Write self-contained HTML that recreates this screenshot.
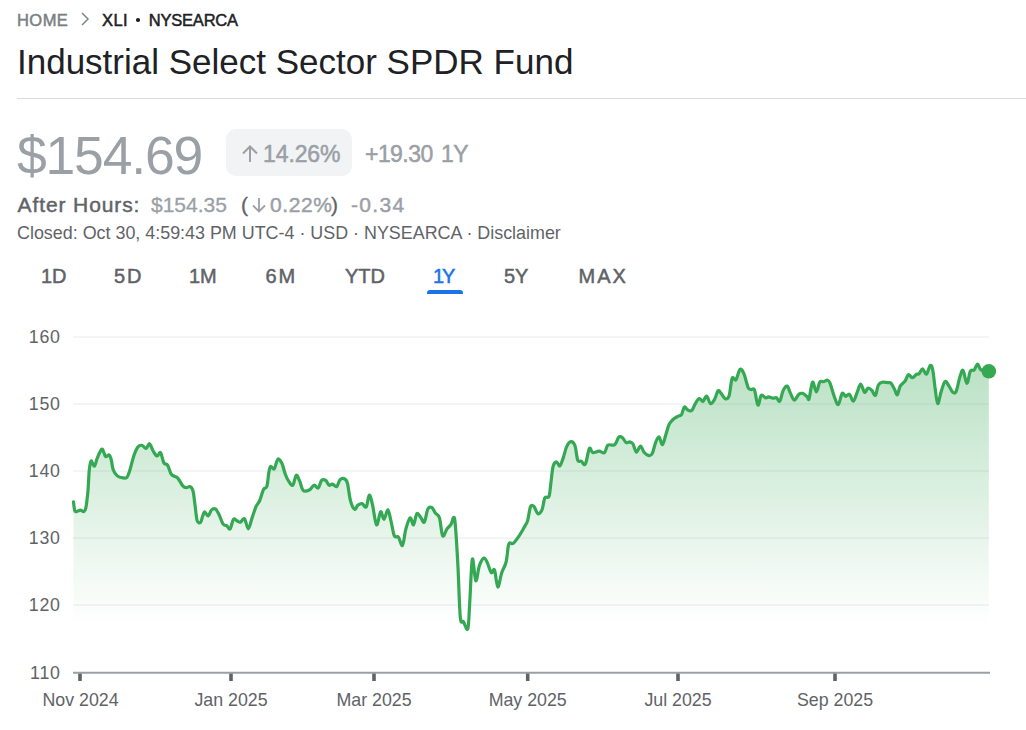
<!DOCTYPE html>
<html><head><meta charset="utf-8">
<style>
html,body{margin:0;padding:0;background:#fff;width:1026px;height:730px;overflow:hidden;}
body{font-family:"Liberation Sans",sans-serif;position:relative;}
.a{position:absolute;white-space:nowrap;line-height:1;}
.tab{position:absolute;white-space:nowrap;line-height:1;font-size:20px;-webkit-text-stroke:0.5px currentColor;color:#5f6368;top:266px;}
.m{-webkit-text-stroke:0.5px currentColor;}
</style></head><body>
<div class="a" style="left:17px;top:12px;font-size:16.5px;letter-spacing:0.45px;-webkit-text-stroke:0.5px #7a7f85;color:#7a7f85">HOME</div>
<svg class="a" style="left:78px;top:11px" width="14" height="16" viewBox="0 0 14 16"><path d="M4 2 L10 8 L4 14" fill="none" stroke="#80868b" stroke-width="1.5"/></svg>
<div class="a" style="left:102px;top:12px;font-size:16.5px;letter-spacing:0.45px;-webkit-text-stroke:0.5px #202124;color:#202124">XLI<span style="display:inline-block;width:3.6px;height:3.6px;border-radius:50%;background:#202124;margin:0 9px 0 8px;vertical-align:4px"></span><span style="letter-spacing:-0.2px">NYSEARCA</span></div>
<div class="a" style="left:17px;top:44px;font-size:35px;color:#202124">Industrial Select Sector SPDR Fund</div>
<div class="a" style="left:17px;top:98px;width:1009px;height:1px;background:#dadce0"></div>
<div class="a" style="left:17px;top:129px;font-size:53.5px;letter-spacing:-1.2px;color:#9aa0a6">$154.69</div>
<div class="a" style="left:226px;top:129px;width:126px;height:47px;border-radius:10px;background:#f1f3f4"></div>
<svg class="a" style="left:240px;top:143.7px" width="20" height="20" viewBox="0 0 20 20"><path d="M10 2.5 V18 M3 9.5 L10 2.5 L17 9.5" fill="none" stroke="#9aa0a6" stroke-width="2"/></svg>
<div class="a" style="left:263px;top:142.5px;font-size:23px;letter-spacing:-0.1px;-webkit-text-stroke:0.5px #9aa0a6;color:#9aa0a6">14.26%</div>
<div class="a" style="left:365px;top:142.5px;font-size:23px;letter-spacing:-0.55px;word-spacing:2.5px;-webkit-text-stroke:0.5px #9aa0a6;color:#9aa0a6">+19.30 1Y</div>
<div class="a" style="left:17.5px;top:194px;font-size:21px;letter-spacing:0.9px;-webkit-text-stroke:0.45px currentColor;color:#5f6368">After Hours:</div>
<div class="a" style="left:151px;top:194px;font-size:21px;-webkit-text-stroke:0.3px currentColor;color:#9aa0a6">$154.35</div>
<div class="a" style="left:241px;top:194px;font-size:21px;-webkit-text-stroke:0.3px currentColor;color:#5f6368">(</div>
<svg class="a" style="left:250px;top:196px" width="18" height="18" viewBox="0 0 18 18"><path d="M9 2 V15.5 M3 9.5 L9 15.5 L15 9.5" fill="none" stroke="#9aa0a6" stroke-width="1.8"/></svg>
<div class="a" style="left:270px;top:194px;font-size:21px;letter-spacing:0.6px;-webkit-text-stroke:0.45px currentColor;color:#9aa0a6">0.22%</div>
<div class="a" style="left:331px;top:194px;font-size:21px;-webkit-text-stroke:0.3px currentColor;color:#5f6368">)</div>
<div class="a" style="left:351px;top:194px;font-size:21px;letter-spacing:1.3px;-webkit-text-stroke:0.45px currentColor;color:#9aa0a6">-0.34</div>
<div class="a" style="left:17px;top:225px;font-size:17.9px;color:#5f6368">Closed: Oct 30, 4:59:43 PM UTC-4 · USD · NYSEARCA · Disclaimer</div>
<div class="tab" style="left:41px">1D</div>
<div class="tab" style="left:114px;letter-spacing:2px">5D</div>
<div class="tab" style="left:189px">1M</div>
<div class="tab" style="left:265.5px;letter-spacing:2px">6M</div>
<div class="tab" style="left:345px">YTD</div>
<div class="tab" style="left:433px;letter-spacing:-2px;color:#1a73e8">1Y</div>
<div class="a" style="left:427px;top:290px;width:36px;height:4px;border-radius:3px 3px 0 0;background:#1a73e8"></div>
<div class="tab" style="left:504px">5Y</div>
<div class="tab" style="left:578.5px;letter-spacing:2px">MAX</div>
<svg class="a" style="left:0;top:0" width="1026" height="730" viewBox="0 0 1026 730">
<defs><linearGradient id="g" x1="0" y1="364" x2="0" y2="625" gradientUnits="userSpaceOnUse">
<stop offset="0" stop-color="#34a853" stop-opacity="0.34"/><stop offset="1" stop-color="#34a853" stop-opacity="0"/></linearGradient></defs>
<g stroke="#e8eaed" stroke-width="1">
<line x1="73" y1="337" x2="989" y2="337"/><line x1="73" y1="404" x2="989" y2="404"/><line x1="73" y1="471" x2="989" y2="471"/><line x1="73" y1="538" x2="989" y2="538"/><line x1="73" y1="605" x2="989" y2="605"/>
</g>
<path d="M73.5,501.9 C73.7,503.4 74.2,509.2 74.8,510.8 C75.4,512.4 76.0,511.6 76.9,511.5 C77.8,511.4 79.2,510.1 80.3,510.1 C81.4,510.1 82.9,511.9 83.8,511.5 C84.7,511.1 85.1,511.3 85.8,508.0 C86.5,504.7 87.3,497.8 87.9,491.6 C88.5,485.4 88.7,476.1 89.2,471.0 C89.7,465.9 90.4,462.4 91.0,461.2 C91.6,460.0 92.1,462.8 92.7,463.6 C93.3,464.4 93.9,466.9 94.7,465.9 C95.5,464.9 96.3,460.2 97.5,457.4 C98.7,454.6 100.6,450.1 101.6,449.2 C102.6,448.3 102.9,450.6 103.6,451.9 C104.3,453.1 104.8,456.2 105.7,456.7 C106.6,457.2 108.2,454.5 109.1,455.0 C110.0,455.5 110.5,457.1 111.2,459.5 C111.9,461.9 112.2,467.0 113.2,469.7 C114.2,472.4 115.7,474.5 117.3,475.9 C118.9,477.3 121.2,477.7 122.8,477.9 C124.4,478.1 125.8,478.4 126.9,477.3 C128.0,476.2 128.4,474.7 129.6,471.1 C130.8,467.6 132.4,460.0 133.8,456.0 C135.2,452.0 136.5,448.9 137.9,447.1 C139.3,445.3 140.6,445.1 142.0,445.3 C143.4,445.5 144.8,448.8 146.1,448.5 C147.3,448.2 148.4,443.4 149.5,443.7 C150.6,444.0 151.7,448.4 152.9,450.5 C154.2,452.6 155.7,455.6 157.0,456.0 C158.3,456.4 159.3,451.5 160.5,452.6 C161.7,453.8 162.7,460.8 163.9,462.9 C165.1,465.0 166.5,463.4 167.7,465.3 C168.9,467.2 170.0,472.4 171.2,474.2 C172.3,476.0 173.5,475.6 174.6,476.3 C175.7,477.0 176.6,476.8 178.0,478.4 C179.4,480.0 181.4,484.3 182.8,485.9 C184.2,487.4 184.9,487.6 186.2,487.7 C187.4,487.8 189.2,486.0 190.3,486.6 C191.5,487.2 192.3,488.2 193.1,491.4 C193.9,494.6 194.4,500.9 195.1,505.8 C195.8,510.7 196.3,518.1 197.2,520.8 C198.1,523.5 199.7,523.0 200.6,522.2 C201.5,521.4 202.0,517.7 202.7,516.0 C203.4,514.3 203.8,511.9 204.7,511.9 C205.6,511.9 207.0,516.3 208.2,516.0 C209.3,515.7 210.3,511.0 211.6,509.9 C212.8,508.8 214.4,508.4 215.7,509.2 C216.9,510.0 217.8,512.2 219.1,514.7 C220.3,517.2 221.9,522.4 223.2,524.2 C224.4,526.0 225.4,524.8 226.6,525.6 C227.8,526.4 228.9,529.9 230.1,528.8 C231.2,527.7 232.4,520.5 233.5,519.2 C234.6,517.9 235.8,520.3 236.9,520.8 C238.0,521.3 239.0,522.5 240.3,522.2 C241.6,521.9 243.2,517.7 244.5,518.8 C245.8,519.9 247.1,528.9 248.3,528.8 C249.6,528.7 250.7,521.8 252.0,518.1 C253.3,514.4 254.9,509.2 256.1,506.4 C257.4,503.5 258.2,503.9 259.5,501.0 C260.8,498.1 262.4,491.7 263.6,489.3 C264.8,486.9 265.9,489.3 266.8,486.6 C267.7,483.9 268.2,476.3 268.8,472.9 C269.4,469.5 269.6,467.1 270.5,466.4 C271.4,465.7 273.1,470.0 274.3,468.8 C275.5,467.6 276.5,460.1 277.8,459.2 C279.1,458.3 280.6,460.8 281.9,463.3 C283.1,465.8 284.2,471.2 285.3,474.2 C286.4,477.2 287.4,479.3 288.7,481.1 C289.9,482.9 291.6,486.2 292.8,485.2 C294.1,484.2 295.1,476.0 296.2,475.3 C297.3,474.6 298.5,478.6 299.7,481.1 C300.9,483.6 301.5,488.9 303.1,490.4 C304.7,491.9 307.5,490.9 309.3,490.0 C311.1,489.1 312.6,485.5 314.1,485.2 C315.6,484.9 316.9,488.8 318.2,488.0 C319.4,487.2 320.4,481.7 321.6,480.4 C322.9,479.1 324.4,479.6 325.7,480.4 C326.9,481.2 328.0,484.6 329.1,485.2 C330.2,485.8 331.2,483.9 332.5,484.1 C333.8,484.3 335.4,487.3 336.7,486.6 C338.0,485.9 338.7,481.0 340.1,479.7 C341.5,478.4 343.6,478.3 344.9,479.0 C346.1,479.7 346.7,480.2 347.6,483.8 C348.5,487.4 349.2,496.1 350.4,500.3 C351.5,504.5 353.2,508.4 354.5,509.2 C355.8,510.0 356.6,506.0 357.9,505.1 C359.2,504.2 360.7,503.3 362.1,503.6 C363.5,503.9 365.0,508.4 366.2,507.0 C367.4,505.6 368.2,495.8 369.2,495.3 C370.2,494.8 371.2,499.3 372.4,504.2 C373.6,509.1 375.1,523.5 376.5,524.8 C377.9,526.1 379.4,512.7 380.6,511.8 C381.9,510.9 382.8,519.6 384.0,519.3 C385.2,518.9 386.8,509.5 387.9,509.7 C389.0,509.9 389.8,516.4 390.9,520.7 C392.0,525.1 393.1,533.1 394.3,535.8 C395.6,538.5 397.0,535.5 398.4,537.1 C399.8,538.7 401.2,546.7 402.5,545.3 C403.8,543.9 404.6,533.5 405.9,528.9 C407.2,524.3 408.8,518.6 410.1,517.9 C411.4,517.2 412.4,525.5 413.5,524.8 C414.6,524.1 415.6,514.8 416.9,513.6 C418.1,512.5 419.8,516.5 421.0,517.9 C422.2,519.3 423.2,523.6 424.4,522.1 C425.5,520.6 426.6,511.4 427.9,509.0 C429.2,506.6 430.8,507.0 432.0,507.7 C433.2,508.4 434.1,511.5 435.4,513.2 C436.6,514.9 438.3,514.1 439.5,517.9 C440.7,521.7 441.4,534.0 442.7,535.8 C443.9,537.6 445.6,530.8 447.0,528.9 C448.4,527.0 450.1,526.0 451.2,524.1 C452.3,522.2 452.9,517.2 453.6,517.3 C454.3,517.4 454.6,516.2 455.3,524.6 C456.0,533.0 457.2,552.0 458.0,567.4 C458.8,582.8 459.4,608.2 460.3,617.2 C461.2,626.2 462.1,619.8 463.4,621.7 C464.6,623.6 466.8,631.6 467.8,628.8 C468.8,626.0 468.9,616.4 469.6,604.8 C470.4,593.2 471.3,563.3 472.3,559.3 C473.3,555.3 474.6,579.7 475.8,580.7 C477.0,581.8 478.0,569.4 479.4,565.6 C480.8,561.8 482.6,558.6 483.9,558.1 C485.2,557.6 486.2,560.5 487.4,562.9 C488.6,565.3 490.1,571.5 491.3,572.7 C492.5,573.9 493.4,567.6 494.5,570.0 C495.6,572.4 496.6,586.5 497.8,587.0 C499.0,587.5 500.3,576.9 501.7,572.7 C503.1,568.5 504.9,566.8 506.1,562.0 C507.3,557.2 507.6,547.3 508.8,544.2 C510.0,541.1 511.5,544.8 513.3,543.3 C515.1,541.8 517.5,538.2 519.5,535.3 C521.5,532.4 523.6,528.4 525.0,525.9 C526.4,523.4 526.8,523.6 527.7,520.4 C528.6,517.2 529.5,509.0 530.5,506.7 C531.5,504.4 532.6,505.2 533.9,506.4 C535.1,507.6 536.6,513.3 538.0,513.8 C539.4,514.3 541.0,512.2 542.1,509.5 C543.2,506.8 543.8,500.0 544.9,497.8 C546.0,495.6 548.0,499.0 549.0,496.4 C550.0,493.8 550.3,487.1 551.0,482.1 C551.7,477.1 552.2,469.7 553.1,466.3 C554.0,462.9 555.4,461.9 556.5,461.8 C557.6,461.7 558.8,466.6 559.9,465.9 C561.0,465.2 562.2,460.6 563.4,457.4 C564.5,454.1 565.5,449.0 566.8,446.4 C568.0,443.8 569.5,441.7 570.9,441.6 C572.3,441.5 573.9,442.7 575.0,445.8 C576.1,448.9 576.7,457.5 577.7,460.1 C578.7,462.7 579.9,460.5 581.2,461.2 C582.5,461.9 583.9,466.3 585.3,464.2 C586.7,462.1 588.1,450.4 589.4,448.5 C590.6,446.6 591.2,452.2 592.8,452.6 C594.4,453.1 597.0,451.2 599.0,451.2 C601.0,451.2 603.0,453.6 604.5,452.6 C606.0,451.6 606.2,446.4 607.9,445.1 C609.6,443.8 612.9,446.1 614.7,444.8 C616.5,443.5 617.5,438.3 618.8,437.1 C620.1,435.9 621.1,436.6 622.3,437.5 C623.5,438.4 625.0,441.9 626.2,442.6 C627.4,443.3 628.5,441.7 629.6,441.9 C630.7,442.1 631.9,442.3 633.0,444.0 C634.1,445.7 635.1,451.9 636.4,452.2 C637.6,452.5 639.2,446.0 640.5,446.0 C641.8,446.0 642.6,450.6 644.0,452.2 C645.4,453.8 647.4,455.4 648.8,455.6 C650.2,455.8 651.1,455.8 652.2,453.6 C653.3,451.4 654.5,445.4 655.6,442.6 C656.7,439.8 657.9,436.5 659.0,436.8 C660.1,437.1 661.4,445.1 662.5,444.7 C663.6,444.3 664.8,437.8 665.9,434.4 C667.0,431.0 667.9,426.7 669.3,424.1 C670.7,421.5 672.5,420.0 674.1,418.6 C675.7,417.2 677.6,416.6 678.9,415.9 C680.1,415.2 680.7,416.0 681.6,414.5 C682.5,413.0 683.4,407.8 684.4,407.0 C685.4,406.2 686.5,409.4 687.8,410.0 C689.0,410.6 690.6,411.5 691.9,410.4 C693.1,409.3 694.1,405.6 695.3,403.6 C696.5,401.6 697.9,398.9 699.2,398.5 C700.5,398.1 701.7,401.9 702.9,401.5 C704.1,401.1 705.4,395.6 706.6,396.0 C707.9,396.4 709.1,403.0 710.4,403.6 C711.7,404.2 713.2,401.6 714.5,399.5 C715.8,397.4 716.9,392.0 717.9,390.9 C718.9,389.8 719.6,391.6 720.8,392.9 C722.0,394.2 723.8,398.2 725.2,398.7 C726.6,399.2 728.0,399.2 729.1,395.8 C730.2,392.4 731.0,381.0 732.1,378.3 C733.2,375.6 734.7,381.2 736.0,379.7 C737.3,378.2 738.6,370.6 739.9,369.5 C741.2,368.4 742.4,370.4 743.8,373.4 C745.2,376.4 746.9,384.8 748.1,387.5 C749.3,390.2 750.0,389.1 751.1,389.5 C752.2,389.9 753.4,387.4 754.5,390.0 C755.6,392.6 756.8,404.2 757.9,405.1 C759.0,406.0 760.0,396.5 761.3,395.3 C762.6,394.1 764.5,397.6 765.7,397.8 C766.9,398.1 767.4,396.7 768.6,396.8 C769.8,396.9 771.7,398.0 773.0,398.2 C774.3,398.4 775.3,397.3 776.4,397.8 C777.5,398.3 778.7,402.4 779.8,401.2 C780.9,400.0 782.0,392.9 783.2,390.4 C784.4,387.9 785.9,385.6 787.1,386.1 C788.3,386.6 789.3,391.0 790.5,393.4 C791.7,395.8 793.0,400.0 794.4,400.2 C795.8,400.4 797.4,395.4 798.8,394.3 C800.2,393.2 801.3,393.0 802.7,393.4 C804.1,393.8 806.0,395.9 807.1,396.8 C808.2,397.7 808.2,401.1 809.1,398.7 C810.0,396.3 811.3,383.3 812.5,382.2 C813.7,381.1 815.2,391.9 816.4,391.9 C817.6,391.9 818.6,383.9 819.8,382.2 C821.0,380.5 822.4,382.0 823.7,381.7 C825.0,381.4 826.6,380.0 827.6,380.2 C828.6,380.4 828.9,380.3 830.0,383.1 C831.1,385.9 833.0,393.2 834.4,396.8 C835.8,400.4 837.0,405.2 838.3,404.6 C839.6,404.0 841.0,394.8 842.2,393.4 C843.4,392.0 844.4,396.1 845.6,396.3 C846.8,396.5 848.2,393.5 849.5,394.3 C850.8,395.1 852.1,401.6 853.4,401.2 C854.7,400.8 856.1,394.8 857.3,391.9 C858.5,389.0 859.5,384.0 860.7,384.1 C861.9,384.2 863.4,391.8 864.6,392.4 C865.8,393.0 866.8,388.3 868.0,388.0 C869.2,387.7 870.7,389.2 871.9,390.4 C873.1,391.6 874.3,396.2 875.4,395.3 C876.5,394.4 877.2,387.3 878.3,385.1 C879.4,382.9 880.4,382.6 882.2,382.2 C884.0,381.8 887.5,382.5 889.0,382.7 C890.5,382.9 890.0,382.1 890.9,383.1 C891.8,384.2 893.3,387.1 894.4,389.0 C895.5,390.9 896.3,395.3 897.3,394.8 C898.3,394.3 898.9,388.4 900.2,386.1 C901.5,383.8 903.6,383.0 905.0,381.1 C906.4,379.2 907.2,375.3 908.4,374.7 C909.6,374.1 910.9,377.8 912.3,377.7 C913.7,377.6 915.6,374.8 916.7,374.2 C917.8,373.6 918.1,374.7 919.1,373.8 C920.1,372.9 921.3,368.8 922.5,368.9 C923.7,369.0 925.1,374.8 926.4,374.2 C927.7,373.6 929.2,366.1 930.3,365.5 C931.4,364.9 932.0,366.4 932.8,370.3 C933.6,374.2 934.4,383.4 935.2,388.9 C936.0,394.4 936.7,403.0 937.7,403.5 C938.7,404.0 939.9,395.5 941.1,391.8 C942.3,388.1 943.7,382.5 945.0,381.5 C946.3,380.5 947.6,384.1 948.9,385.9 C950.2,387.7 951.6,391.4 952.8,392.3 C954.0,393.2 955.1,393.7 956.2,391.3 C957.3,388.9 958.5,381.6 959.6,378.1 C960.7,374.6 961.8,369.4 963.0,370.3 C964.2,371.2 965.7,383.3 966.9,383.5 C968.1,383.7 969.1,373.6 970.3,371.3 C971.5,369.0 973.0,371.1 974.2,369.9 C975.4,368.7 976.5,364.0 977.6,364.0 C978.7,364.0 979.1,368.7 981.0,369.9 C982.9,371.1 987.5,371.1 988.8,371.3 L988.8,640 L73.5,640 Z" fill="url(#g)"/>
<path d="M73.5,501.9 C73.7,503.4 74.2,509.2 74.8,510.8 C75.4,512.4 76.0,511.6 76.9,511.5 C77.8,511.4 79.2,510.1 80.3,510.1 C81.4,510.1 82.9,511.9 83.8,511.5 C84.7,511.1 85.1,511.3 85.8,508.0 C86.5,504.7 87.3,497.8 87.9,491.6 C88.5,485.4 88.7,476.1 89.2,471.0 C89.7,465.9 90.4,462.4 91.0,461.2 C91.6,460.0 92.1,462.8 92.7,463.6 C93.3,464.4 93.9,466.9 94.7,465.9 C95.5,464.9 96.3,460.2 97.5,457.4 C98.7,454.6 100.6,450.1 101.6,449.2 C102.6,448.3 102.9,450.6 103.6,451.9 C104.3,453.1 104.8,456.2 105.7,456.7 C106.6,457.2 108.2,454.5 109.1,455.0 C110.0,455.5 110.5,457.1 111.2,459.5 C111.9,461.9 112.2,467.0 113.2,469.7 C114.2,472.4 115.7,474.5 117.3,475.9 C118.9,477.3 121.2,477.7 122.8,477.9 C124.4,478.1 125.8,478.4 126.9,477.3 C128.0,476.2 128.4,474.7 129.6,471.1 C130.8,467.6 132.4,460.0 133.8,456.0 C135.2,452.0 136.5,448.9 137.9,447.1 C139.3,445.3 140.6,445.1 142.0,445.3 C143.4,445.5 144.8,448.8 146.1,448.5 C147.3,448.2 148.4,443.4 149.5,443.7 C150.6,444.0 151.7,448.4 152.9,450.5 C154.2,452.6 155.7,455.6 157.0,456.0 C158.3,456.4 159.3,451.5 160.5,452.6 C161.7,453.8 162.7,460.8 163.9,462.9 C165.1,465.0 166.5,463.4 167.7,465.3 C168.9,467.2 170.0,472.4 171.2,474.2 C172.3,476.0 173.5,475.6 174.6,476.3 C175.7,477.0 176.6,476.8 178.0,478.4 C179.4,480.0 181.4,484.3 182.8,485.9 C184.2,487.4 184.9,487.6 186.2,487.7 C187.4,487.8 189.2,486.0 190.3,486.6 C191.5,487.2 192.3,488.2 193.1,491.4 C193.9,494.6 194.4,500.9 195.1,505.8 C195.8,510.7 196.3,518.1 197.2,520.8 C198.1,523.5 199.7,523.0 200.6,522.2 C201.5,521.4 202.0,517.7 202.7,516.0 C203.4,514.3 203.8,511.9 204.7,511.9 C205.6,511.9 207.0,516.3 208.2,516.0 C209.3,515.7 210.3,511.0 211.6,509.9 C212.8,508.8 214.4,508.4 215.7,509.2 C216.9,510.0 217.8,512.2 219.1,514.7 C220.3,517.2 221.9,522.4 223.2,524.2 C224.4,526.0 225.4,524.8 226.6,525.6 C227.8,526.4 228.9,529.9 230.1,528.8 C231.2,527.7 232.4,520.5 233.5,519.2 C234.6,517.9 235.8,520.3 236.9,520.8 C238.0,521.3 239.0,522.5 240.3,522.2 C241.6,521.9 243.2,517.7 244.5,518.8 C245.8,519.9 247.1,528.9 248.3,528.8 C249.6,528.7 250.7,521.8 252.0,518.1 C253.3,514.4 254.9,509.2 256.1,506.4 C257.4,503.5 258.2,503.9 259.5,501.0 C260.8,498.1 262.4,491.7 263.6,489.3 C264.8,486.9 265.9,489.3 266.8,486.6 C267.7,483.9 268.2,476.3 268.8,472.9 C269.4,469.5 269.6,467.1 270.5,466.4 C271.4,465.7 273.1,470.0 274.3,468.8 C275.5,467.6 276.5,460.1 277.8,459.2 C279.1,458.3 280.6,460.8 281.9,463.3 C283.1,465.8 284.2,471.2 285.3,474.2 C286.4,477.2 287.4,479.3 288.7,481.1 C289.9,482.9 291.6,486.2 292.8,485.2 C294.1,484.2 295.1,476.0 296.2,475.3 C297.3,474.6 298.5,478.6 299.7,481.1 C300.9,483.6 301.5,488.9 303.1,490.4 C304.7,491.9 307.5,490.9 309.3,490.0 C311.1,489.1 312.6,485.5 314.1,485.2 C315.6,484.9 316.9,488.8 318.2,488.0 C319.4,487.2 320.4,481.7 321.6,480.4 C322.9,479.1 324.4,479.6 325.7,480.4 C326.9,481.2 328.0,484.6 329.1,485.2 C330.2,485.8 331.2,483.9 332.5,484.1 C333.8,484.3 335.4,487.3 336.7,486.6 C338.0,485.9 338.7,481.0 340.1,479.7 C341.5,478.4 343.6,478.3 344.9,479.0 C346.1,479.7 346.7,480.2 347.6,483.8 C348.5,487.4 349.2,496.1 350.4,500.3 C351.5,504.5 353.2,508.4 354.5,509.2 C355.8,510.0 356.6,506.0 357.9,505.1 C359.2,504.2 360.7,503.3 362.1,503.6 C363.5,503.9 365.0,508.4 366.2,507.0 C367.4,505.6 368.2,495.8 369.2,495.3 C370.2,494.8 371.2,499.3 372.4,504.2 C373.6,509.1 375.1,523.5 376.5,524.8 C377.9,526.1 379.4,512.7 380.6,511.8 C381.9,510.9 382.8,519.6 384.0,519.3 C385.2,518.9 386.8,509.5 387.9,509.7 C389.0,509.9 389.8,516.4 390.9,520.7 C392.0,525.1 393.1,533.1 394.3,535.8 C395.6,538.5 397.0,535.5 398.4,537.1 C399.8,538.7 401.2,546.7 402.5,545.3 C403.8,543.9 404.6,533.5 405.9,528.9 C407.2,524.3 408.8,518.6 410.1,517.9 C411.4,517.2 412.4,525.5 413.5,524.8 C414.6,524.1 415.6,514.8 416.9,513.6 C418.1,512.5 419.8,516.5 421.0,517.9 C422.2,519.3 423.2,523.6 424.4,522.1 C425.5,520.6 426.6,511.4 427.9,509.0 C429.2,506.6 430.8,507.0 432.0,507.7 C433.2,508.4 434.1,511.5 435.4,513.2 C436.6,514.9 438.3,514.1 439.5,517.9 C440.7,521.7 441.4,534.0 442.7,535.8 C443.9,537.6 445.6,530.8 447.0,528.9 C448.4,527.0 450.1,526.0 451.2,524.1 C452.3,522.2 452.9,517.2 453.6,517.3 C454.3,517.4 454.6,516.2 455.3,524.6 C456.0,533.0 457.2,552.0 458.0,567.4 C458.8,582.8 459.4,608.2 460.3,617.2 C461.2,626.2 462.1,619.8 463.4,621.7 C464.6,623.6 466.8,631.6 467.8,628.8 C468.8,626.0 468.9,616.4 469.6,604.8 C470.4,593.2 471.3,563.3 472.3,559.3 C473.3,555.3 474.6,579.7 475.8,580.7 C477.0,581.8 478.0,569.4 479.4,565.6 C480.8,561.8 482.6,558.6 483.9,558.1 C485.2,557.6 486.2,560.5 487.4,562.9 C488.6,565.3 490.1,571.5 491.3,572.7 C492.5,573.9 493.4,567.6 494.5,570.0 C495.6,572.4 496.6,586.5 497.8,587.0 C499.0,587.5 500.3,576.9 501.7,572.7 C503.1,568.5 504.9,566.8 506.1,562.0 C507.3,557.2 507.6,547.3 508.8,544.2 C510.0,541.1 511.5,544.8 513.3,543.3 C515.1,541.8 517.5,538.2 519.5,535.3 C521.5,532.4 523.6,528.4 525.0,525.9 C526.4,523.4 526.8,523.6 527.7,520.4 C528.6,517.2 529.5,509.0 530.5,506.7 C531.5,504.4 532.6,505.2 533.9,506.4 C535.1,507.6 536.6,513.3 538.0,513.8 C539.4,514.3 541.0,512.2 542.1,509.5 C543.2,506.8 543.8,500.0 544.9,497.8 C546.0,495.6 548.0,499.0 549.0,496.4 C550.0,493.8 550.3,487.1 551.0,482.1 C551.7,477.1 552.2,469.7 553.1,466.3 C554.0,462.9 555.4,461.9 556.5,461.8 C557.6,461.7 558.8,466.6 559.9,465.9 C561.0,465.2 562.2,460.6 563.4,457.4 C564.5,454.1 565.5,449.0 566.8,446.4 C568.0,443.8 569.5,441.7 570.9,441.6 C572.3,441.5 573.9,442.7 575.0,445.8 C576.1,448.9 576.7,457.5 577.7,460.1 C578.7,462.7 579.9,460.5 581.2,461.2 C582.5,461.9 583.9,466.3 585.3,464.2 C586.7,462.1 588.1,450.4 589.4,448.5 C590.6,446.6 591.2,452.2 592.8,452.6 C594.4,453.1 597.0,451.2 599.0,451.2 C601.0,451.2 603.0,453.6 604.5,452.6 C606.0,451.6 606.2,446.4 607.9,445.1 C609.6,443.8 612.9,446.1 614.7,444.8 C616.5,443.5 617.5,438.3 618.8,437.1 C620.1,435.9 621.1,436.6 622.3,437.5 C623.5,438.4 625.0,441.9 626.2,442.6 C627.4,443.3 628.5,441.7 629.6,441.9 C630.7,442.1 631.9,442.3 633.0,444.0 C634.1,445.7 635.1,451.9 636.4,452.2 C637.6,452.5 639.2,446.0 640.5,446.0 C641.8,446.0 642.6,450.6 644.0,452.2 C645.4,453.8 647.4,455.4 648.8,455.6 C650.2,455.8 651.1,455.8 652.2,453.6 C653.3,451.4 654.5,445.4 655.6,442.6 C656.7,439.8 657.9,436.5 659.0,436.8 C660.1,437.1 661.4,445.1 662.5,444.7 C663.6,444.3 664.8,437.8 665.9,434.4 C667.0,431.0 667.9,426.7 669.3,424.1 C670.7,421.5 672.5,420.0 674.1,418.6 C675.7,417.2 677.6,416.6 678.9,415.9 C680.1,415.2 680.7,416.0 681.6,414.5 C682.5,413.0 683.4,407.8 684.4,407.0 C685.4,406.2 686.5,409.4 687.8,410.0 C689.0,410.6 690.6,411.5 691.9,410.4 C693.1,409.3 694.1,405.6 695.3,403.6 C696.5,401.6 697.9,398.9 699.2,398.5 C700.5,398.1 701.7,401.9 702.9,401.5 C704.1,401.1 705.4,395.6 706.6,396.0 C707.9,396.4 709.1,403.0 710.4,403.6 C711.7,404.2 713.2,401.6 714.5,399.5 C715.8,397.4 716.9,392.0 717.9,390.9 C718.9,389.8 719.6,391.6 720.8,392.9 C722.0,394.2 723.8,398.2 725.2,398.7 C726.6,399.2 728.0,399.2 729.1,395.8 C730.2,392.4 731.0,381.0 732.1,378.3 C733.2,375.6 734.7,381.2 736.0,379.7 C737.3,378.2 738.6,370.6 739.9,369.5 C741.2,368.4 742.4,370.4 743.8,373.4 C745.2,376.4 746.9,384.8 748.1,387.5 C749.3,390.2 750.0,389.1 751.1,389.5 C752.2,389.9 753.4,387.4 754.5,390.0 C755.6,392.6 756.8,404.2 757.9,405.1 C759.0,406.0 760.0,396.5 761.3,395.3 C762.6,394.1 764.5,397.6 765.7,397.8 C766.9,398.1 767.4,396.7 768.6,396.8 C769.8,396.9 771.7,398.0 773.0,398.2 C774.3,398.4 775.3,397.3 776.4,397.8 C777.5,398.3 778.7,402.4 779.8,401.2 C780.9,400.0 782.0,392.9 783.2,390.4 C784.4,387.9 785.9,385.6 787.1,386.1 C788.3,386.6 789.3,391.0 790.5,393.4 C791.7,395.8 793.0,400.0 794.4,400.2 C795.8,400.4 797.4,395.4 798.8,394.3 C800.2,393.2 801.3,393.0 802.7,393.4 C804.1,393.8 806.0,395.9 807.1,396.8 C808.2,397.7 808.2,401.1 809.1,398.7 C810.0,396.3 811.3,383.3 812.5,382.2 C813.7,381.1 815.2,391.9 816.4,391.9 C817.6,391.9 818.6,383.9 819.8,382.2 C821.0,380.5 822.4,382.0 823.7,381.7 C825.0,381.4 826.6,380.0 827.6,380.2 C828.6,380.4 828.9,380.3 830.0,383.1 C831.1,385.9 833.0,393.2 834.4,396.8 C835.8,400.4 837.0,405.2 838.3,404.6 C839.6,404.0 841.0,394.8 842.2,393.4 C843.4,392.0 844.4,396.1 845.6,396.3 C846.8,396.5 848.2,393.5 849.5,394.3 C850.8,395.1 852.1,401.6 853.4,401.2 C854.7,400.8 856.1,394.8 857.3,391.9 C858.5,389.0 859.5,384.0 860.7,384.1 C861.9,384.2 863.4,391.8 864.6,392.4 C865.8,393.0 866.8,388.3 868.0,388.0 C869.2,387.7 870.7,389.2 871.9,390.4 C873.1,391.6 874.3,396.2 875.4,395.3 C876.5,394.4 877.2,387.3 878.3,385.1 C879.4,382.9 880.4,382.6 882.2,382.2 C884.0,381.8 887.5,382.5 889.0,382.7 C890.5,382.9 890.0,382.1 890.9,383.1 C891.8,384.2 893.3,387.1 894.4,389.0 C895.5,390.9 896.3,395.3 897.3,394.8 C898.3,394.3 898.9,388.4 900.2,386.1 C901.5,383.8 903.6,383.0 905.0,381.1 C906.4,379.2 907.2,375.3 908.4,374.7 C909.6,374.1 910.9,377.8 912.3,377.7 C913.7,377.6 915.6,374.8 916.7,374.2 C917.8,373.6 918.1,374.7 919.1,373.8 C920.1,372.9 921.3,368.8 922.5,368.9 C923.7,369.0 925.1,374.8 926.4,374.2 C927.7,373.6 929.2,366.1 930.3,365.5 C931.4,364.9 932.0,366.4 932.8,370.3 C933.6,374.2 934.4,383.4 935.2,388.9 C936.0,394.4 936.7,403.0 937.7,403.5 C938.7,404.0 939.9,395.5 941.1,391.8 C942.3,388.1 943.7,382.5 945.0,381.5 C946.3,380.5 947.6,384.1 948.9,385.9 C950.2,387.7 951.6,391.4 952.8,392.3 C954.0,393.2 955.1,393.7 956.2,391.3 C957.3,388.9 958.5,381.6 959.6,378.1 C960.7,374.6 961.8,369.4 963.0,370.3 C964.2,371.2 965.7,383.3 966.9,383.5 C968.1,383.7 969.1,373.6 970.3,371.3 C971.5,369.0 973.0,371.1 974.2,369.9 C975.4,368.7 976.5,364.0 977.6,364.0 C978.7,364.0 979.1,368.7 981.0,369.9 C982.9,371.1 987.5,371.1 988.8,371.3" fill="none" stroke="#34a853" stroke-width="3.2" stroke-linejoin="round" stroke-linecap="round"/>
<circle cx="988.8" cy="371.3" r="7.3" fill="#34a853"/>
<line x1="73" y1="672.8" x2="990" y2="672.8" stroke="#9aa0a6" stroke-width="1.9"/>
<g stroke="#5f6368" stroke-width="3.6">
<line x1="80" y1="673.6" x2="80" y2="681"/><line x1="231" y1="673.6" x2="231" y2="681"/><line x1="374" y1="673.6" x2="374" y2="681"/><line x1="527.7" y1="673.6" x2="527.7" y2="681"/><line x1="678" y1="673.6" x2="678" y2="681"/><line x1="835" y1="673.6" x2="835" y2="681"/>
</g>
<g font-family="Liberation Sans" font-size="17.8" fill="#5f6368">
<text x="60.8" y="343" text-anchor="end" letter-spacing="0.8">160</text><text x="60.8" y="410" text-anchor="end" letter-spacing="0.8">150</text><text x="60.8" y="477" text-anchor="end" letter-spacing="0.8">140</text><text x="60.8" y="544" text-anchor="end" letter-spacing="0.8">130</text><text x="60.8" y="611" text-anchor="end" letter-spacing="0.8">120</text><text x="60.8" y="679" text-anchor="end" letter-spacing="0.8">110</text>
<text x="80.5" y="706" text-anchor="middle">Nov 2024</text><text x="231" y="706" text-anchor="middle">Jan 2025</text><text x="374" y="706" text-anchor="middle">Mar 2025</text><text x="527.7" y="706" text-anchor="middle">May 2025</text><text x="678" y="706" text-anchor="middle">Jul 2025</text><text x="835" y="706" text-anchor="middle">Sep 2025</text>
</g>
</svg>
</body></html>
